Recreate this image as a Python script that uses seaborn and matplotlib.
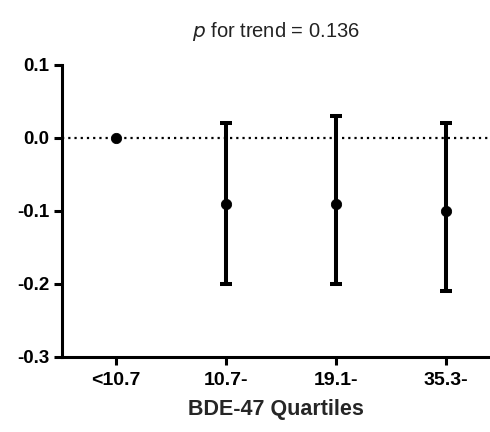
import pandas as pd
import matplotlib
matplotlib.use("Agg")
import matplotlib.pyplot as plt
import seaborn as sns

# values
quartiles = ["<10.7", "10.7-", "19.1-", "35.3-"]
beta = [0.0, -0.09, -0.09, -0.10]
ci_low = [0.0, -0.20, -0.20, -0.21]
ci_high = [0.0, 0.02, 0.03, 0.02]
y_ticks = [0.1, 0.0, -0.1, -0.2, -0.3]

df = pd.DataFrame({"Quartile": quartiles, "Beta": beta,
                   "Low": ci_low, "High": ci_high})
df["pos"] = range(len(df))

sns.set_style("ticks")
plt.rcParams["font.family"] = ["Liberation Sans", "DejaVu Sans"]

fig = plt.figure(figsize=(4.9, 4.32), dpi=100)
ax = fig.add_axes([0.1265, 0.174, 0.8735, 0.676])

ax.axhline(0, color="black", linestyle=(0, (1.0, 1.8)), lw=1.6, zorder=1)

# error bars (skip the reference group)
err = df[df["High"] != df["Low"]]
ax.errorbar(err["pos"], err["Beta"],
            yerr=[err["Beta"] - err["Low"], err["High"] - err["Beta"]],
            fmt="none", ecolor="black", elinewidth=2.9, capsize=4, capthick=2.9,
            zorder=2)
sns.scatterplot(data=df, x="pos", y="Beta", ax=ax, color="black", s=55,
                edgecolor="black", zorder=3, legend=False)

ax.set_xlim(-0.49, 3.4)
ax.set_ylim(-0.3, 0.1)
ax.set_yticks(y_ticks)
ax.set_yticklabels([f"{v:.1f}" for v in y_ticks], fontsize=13.5, fontweight="bold")
ax.set_xticks(df["pos"])
ax.set_xticklabels(quartiles, fontsize=14, fontweight="bold")
ax.set_xlabel("BDE-47 Quartiles", fontsize=15.5, fontweight="bold", labelpad=7)
ax.set_ylabel("")
ax.set_title("$\\it{p}$ for trend = 0.136", fontsize=14.5, color="#222222", pad=20)

sns.despine(ax=ax)
for s in ["left", "bottom"]:
    ax.spines[s].set_linewidth(2.2)
    ax.spines[s].set_color("black")
ax.tick_params(axis="both", width=2.2, length=6, color="black", labelcolor="black")
ax.tick_params(axis="x", pad=5)
ax.tick_params(axis="y", pad=3)

fig.savefig("out.png", dpi=100)
